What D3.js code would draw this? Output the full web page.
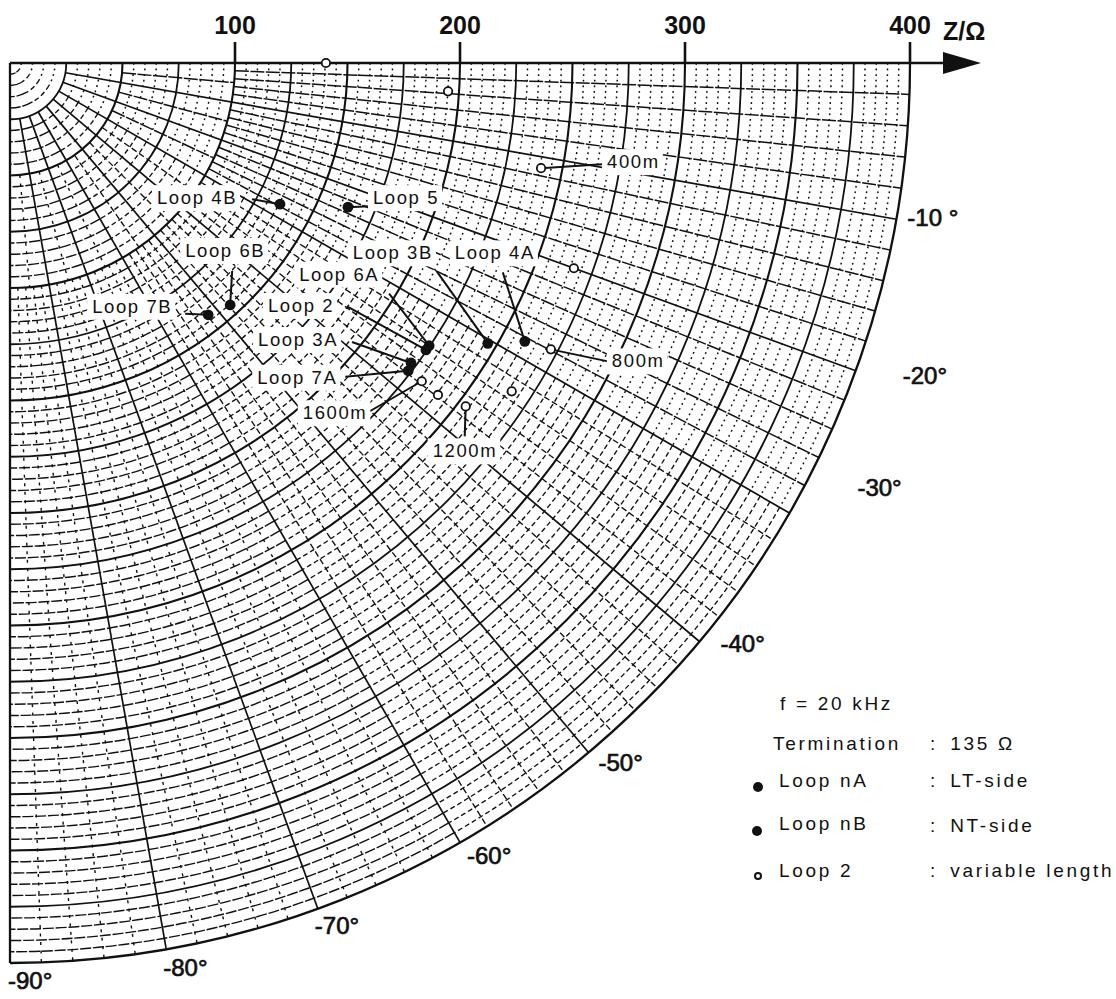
<!DOCTYPE html>
<html><head><meta charset="utf-8">
<script src="https://cdn.jsdelivr.net/npm/d3@7"></script>
<style>
body{margin:0;background:#fff}
svg{display:block}
text{font-family:"Liberation Sans",Arial,Helvetica,sans-serif;fill:#111}
</style>
</head><body>
<svg id="chart" width="1116" height="999"></svg>
<script>
// ---------------- data ----------------
const radiusTicks = [100, 200, 300, 400];
const angleTicks = [-10, -20, -30, -40, -50, -60, -70, -80, -90];
const angleTickText = ["-10 °", "-20°", "-30°", "-40°", "-50°", "-60°", "-70°", "-80°", "-90°"];

// filled dots: measured loops (|Z| in ohm, phase in degrees)
const loopNames     = ["Loop 4B", "Loop 5", "Loop 6B", "Loop 7B", "Loop 3B", "Loop 4A", "Loop 6A", "Loop 2", "Loop 3A", "Loop 7A"];
const loopMagnitude = [135.4, 163.3, 145.4, 142.4, 246.2, 260.1, 224.7, 224.6, 222.6, 223.7];
const loopPhase     = [-27.6, -23.1, -47.7, -51.8, -30.4, -28.4, -34.0, -34.6, -36.8, -37.7];

// open circles: Loop 2 with variable length
const cableLength     = [0, 200, 400, 600, 800, 1000, 1200, 1400, 1600];
const lengthMagnitude = [140.4, 195.1, 240.6, 266.7, 272.0, 266.5, 253.6, 240.7, 231.3];
const lengthPhase     = [0, -3.7, -11.2, -20.0, -27.9, -33.2, -37.0, -37.8, -37.7];
const labeledLengths  = [400, 800, 1200, 1600];

const legendLines  = ["f = 20 kHz", "Termination", "Loop nA", "Loop nB", "Loop 2"];
const legendValues = ["", "135 Ω", "LT-side", "NT-side", "variable length"];

// ---------------- layout (pixels, not data) ----------------
const ox = 10, oy = 63;
const rScale = d3.scaleLinear().domain([0, 400]).range([0, 900]);
const toRad = d => d * Math.PI / 180;
const px = (r, a) => ox + rScale(r) * Math.cos(toRad(a));
const py = (r, a) => oy - rScale(r) * Math.sin(toRad(a));

const loopLabelLayout = {
  "Loop 4B": {tx: -123, ty: 0,   lx: -28, ly: -5},
  "Loop 5":  {tx: 25,   ty: -3,  lx: 22,  ly: -1},
  "Loop 6B": {tx: -45,  ty: -48, lx: 2,   ly: -34},
  "Loop 7B": {tx: -116, ty: -2,  lx: -23, ly: -1},
  "Loop 3B": {tx: -135, ty: -84, lx: -51, ly: -72},
  "Loop 4A": {tx: -70,  ty: -82, lx: -22, ly: -69},
  "Loop 6A": {tx: -130, ty: -65, lx: -40, ly: -52},
  "Loop 2":  {tx: -158, ty: -38, lx: -78, ly: -43},
  "Loop 3A": {tx: -153, ty: -17, lx: -59, ly: -21},
  "Loop 7A": {tx: -151, ty: 13,  lx: -63, ly: 6}
};
const lengthLabelLayout = {
  400:  {tx: 66,   ty: 0,  lx: 61,  ly: -4},
  800:  {tx: 61,   ty: 18, lx: 57,  ly: 12},
  1200: {tx: -33,  ty: 51, lx: -1,  ly: 30},
  1600: {tx: -119, ty: 38, lx: -52, ly: 30}
};
const angleLabelOffset = [[11,7],[47,13],[68,-17],[21,10],[10,19],[7,22],[-3,25],[-3,27],[-2,26]];

// line styles per angular band (mimics the scanned paper: lines running
// horizontally stay solid, lines running vertically break up)
const bands = [
  {a0: 0,  a1: 30, arcDash: "1.8,3.8", arcW: 1.5, radDash: "14,1.5", radW: 1.5},
  {a0: 30, a1: 60, arcDash: "5,3",     arcW: 1.35, radDash: "6,3",   radW: 1.35},
  {a0: 60, a1: 90, arcDash: "11,1.8",  arcW: 1.4, radDash: "3,5.5", radW: 1.4}
];

const svg = d3.select("#chart");
const defs = svg.append("defs");
const R = rScale(400);
const quarter = d3.path();
quarter.moveTo(ox, oy); quarter.lineTo(ox + R, oy);
quarter.arc(ox, oy, R, 0, Math.PI / 2); quarter.closePath();
defs.append("clipPath").attr("id", "q").append("path").attr("d", quarter.toString());

const grid = svg.append("g").attr("clip-path", "url(#q)");

function arcD(r, a0 = 0, a1 = 90) {
  const p = d3.path();
  const rr = rScale(r);
  p.moveTo(ox + rr * Math.cos(toRad(a0)), oy + rr * Math.sin(toRad(a0)));
  p.arc(ox, oy, rr, toRad(a0), toRad(a1));
  return p.toString();
}
function radialD(a, r0, r1) {
  return `M${px(r0, a)},${py(r0, a)}L${px(r1, a)},${py(r1, a)}`;
}
const bandOf = a => bands.find(b => -a >= b.a0 && -a < b.a1) || bands[2];

// fine arcs every 5 ohm, split by band
const fineArcs = [];
d3.range(5, 400, 5).filter(r => r % 25 !== 0)
  .forEach(r => bands.forEach(b => fineArcs.push({r, b})));
grid.selectAll(".fa").data(fineArcs).join("path")
  .attr("d", d => arcD(d.r, d.b.a0, d.b.a1)).attr("fill", "none").attr("stroke", "#111")
  .attr("stroke-width", d => d.b.arcW).attr("stroke-dasharray", d => d.b.arcDash);

// fine radials
const rad5 = d3.range(-5, -90, -5).filter(a => a % 10 !== 0);
grid.selectAll(".r5").data(rad5).join("path")
  .attr("d", a => radialD(a, 50, 100)).attr("stroke", "#111")
  .attr("stroke-width", a => bandOf(a).radW).attr("stroke-dasharray", a => bandOf(a).radDash);
const rad2 = d3.range(-2, -90, -2).filter(a => a % 10 !== 0);
grid.selectAll(".r2").data(rad2).join("path")
  .attr("d", a => radialD(a, 100, 400)).attr("stroke", "#111")
  .attr("stroke-width", a => bandOf(a).radW).attr("stroke-dasharray", a => bandOf(a).radDash);

// arcs every 25 ohm
grid.selectAll(".ma").data(d3.range(25, 400, 25)).join("path")
  .attr("d", r => arcD(r)).attr("fill", "none").attr("stroke", "#111")
  .attr("stroke-width", r => r % 50 === 0 ? 2.1 : 1.8);

// 10 degree radials
grid.selectAll(".r10").data(d3.range(-10, -90, -10)).join("path")
  .attr("d", a => radialD(a, 25, 400)).attr("stroke", "#111")
  .attr("stroke-width", 1.7);

// boundary
svg.append("path").attr("d", arcD(400)).attr("fill", "none").attr("stroke", "#111").attr("stroke-width", 2.3);
svg.append("path").attr("d", radialD(-90, 0, 400)).attr("stroke", "#111").attr("stroke-width", 2.3);
// top axis with arrow
svg.append("line").attr("x1", ox).attr("y1", oy).attr("x2", 950).attr("y2", oy)
  .attr("stroke", "#111").attr("stroke-width", 2.5);
svg.append("path").attr("d", `M943,${oy - 11}L981,${oy}L943,${oy + 11}Z`).attr("fill", "#111");

// radius ticks
svg.selectAll(".rt").data(radiusTicks).join("line")
  .attr("x1", d => px(d, 0)).attr("x2", d => px(d, 0))
  .attr("y1", oy - 21).attr("y2", oy).attr("stroke", "#111").attr("stroke-width", 2.6);
svg.selectAll(".rtl").data(radiusTicks).join("text")
  .attr("x", d => px(d, 0)).attr("y", 34).attr("text-anchor", "middle")
  .attr("font-size", 25).attr("font-weight", "bold").text(d => d);
svg.append("text").attr("x", 943).attr("y", 40).attr("font-size", 25).attr("font-weight", "bold").text("Z/Ω");

// angle labels
svg.selectAll(".al").data(angleTicks).join("text")
  .attr("x", (d, i) => px(400, d) + angleLabelOffset[i][0])
  .attr("y", (d, i) => py(400, d) + angleLabelOffset[i][1])
  .attr("font-size", 24).attr("stroke", "#111").attr("stroke-width", 0.7)
  .text((d, i) => angleTickText[i]);

// ---------------- annotations ----------------
const loops = loopNames.map((n, i) => ({name: n, r: loopMagnitude[i], a: loopPhase[i]}));
const lens = cableLength.map((l, i) => ({len: l, r: lengthMagnitude[i], a: lengthPhase[i]}));
const labeled = lens.filter(d => labeledLengths.includes(d.len));

const ann = [];
loops.forEach(d => { const L = loopLabelLayout[d.name]; ann.push({text: d.name, x: px(d.r, d.a), y: py(d.r, d.a), L}); });
labeled.forEach(d => { const L = lengthLabelLayout[d.len]; ann.push({text: d.len + "m", x: px(d.r, d.a), y: py(d.r, d.a), L}); });

const annG = svg.append("g");
annG.selectAll("line").data(ann).join("line")
  .attr("x1", d => d.x + d.L.lx).attr("y1", d => d.y + d.L.ly)
  .attr("x2", d => d.x).attr("y2", d => d.y)
  .attr("stroke", "#111").attr("stroke-width", 2);
const boxG = svg.append("g");
const txtG = svg.append("g");
txtG.selectAll("text").data(ann).join("text")
  .attr("x", d => d.x + d.L.tx).attr("y", d => d.y + d.L.ty)
  .attr("font-size", 18.5).attr("letter-spacing", 1.6)
  .text(d => d.text)
  .each(function () {
    const b = this.getBBox();
    boxG.append("rect").attr("x", b.x - 5).attr("y", b.y - 2).attr("width", b.width + 8).attr("height", b.height + 5)
      .attr("fill", "#fff");
  });

// points
svg.append("g").selectAll("circle").data(lens).join("circle")
  .attr("cx", d => px(d.r, d.a)).attr("cy", d => py(d.r, d.a)).attr("r", 4.2)
  .attr("fill", "#fff").attr("stroke", "#111").attr("stroke-width", 1.8);
svg.append("g").selectAll("circle").data(loops).join("circle")
  .attr("cx", d => px(d.r, d.a)).attr("cy", d => py(d.r, d.a)).attr("r", 5.4)
  .attr("fill", "#111");

// ---------------- legend ----------------
const lg = svg.append("g").attr("font-size", 19).attr("letter-spacing", 2.7);
const legendX = [780, 773, 779, 779, 779];
const legendY = [710, 750, 787, 830, 877];
lg.selectAll(".lt").data(legendLines).join("text")
  .attr("x", (d, i) => legendX[i]).attr("y", (d, i) => legendY[i]).text(d => d);
lg.selectAll(".lv").data(legendValues.map((v, i) => ({v, i})).filter(d => d.v)).join("text")
  .attr("x", 930).attr("y", d => legendY[d.i] + (d.i === 3 ? 2 : 0))
  .text(d => ":\u2002" + d.v);
lg.append("circle").attr("cx", 758).attr("cy", 787).attr("r", 5).attr("fill", "#111");
lg.append("circle").attr("cx", 757).attr("cy", 831).attr("r", 5).attr("fill", "#111");
lg.append("circle").attr("cx", 758).attr("cy", 876).attr("r", 3).attr("fill", "#fff")
  .attr("stroke", "#111").attr("stroke-width", 2);
</script>
</body></html>
